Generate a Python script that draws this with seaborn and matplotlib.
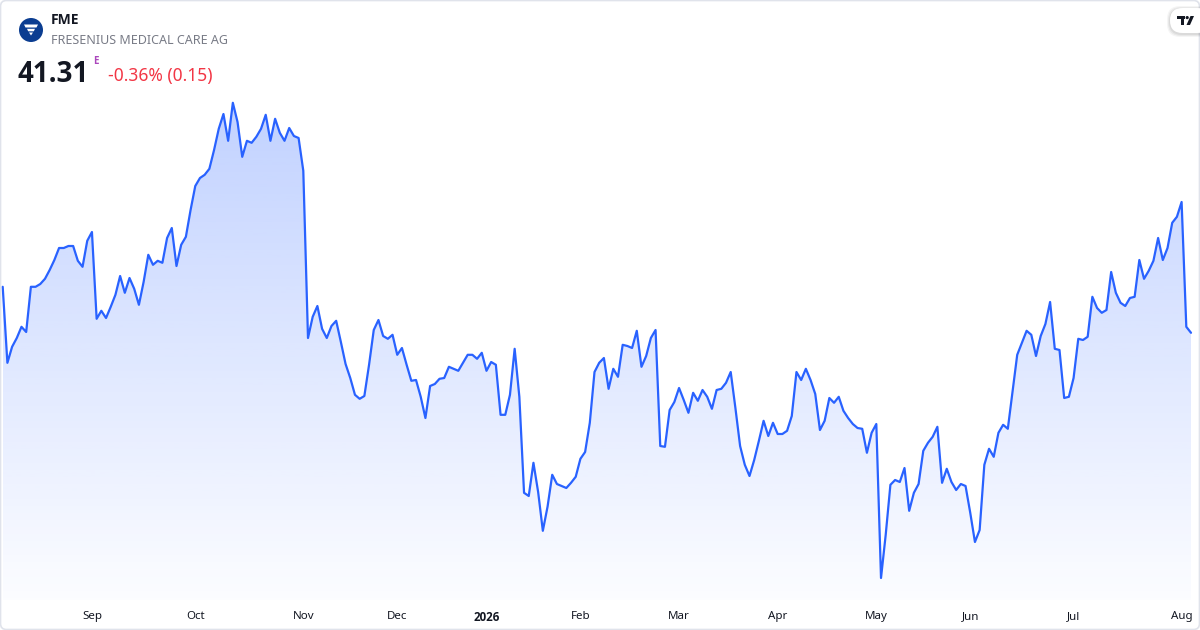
import numpy as np
import pandas as pd
import matplotlib
matplotlib.use('Agg')
import matplotlib.pyplot as plt
import seaborn as sns
from matplotlib import font_manager
from matplotlib.patches import FancyBboxPatch, Circle, Polygon, Rectangle

sns.set_theme(style='white')
plt.rcParams['font.family'] = ['Noto Sans', 'DejaVu Sans']

# daily closes, FME (Xetra), Aug 2025 - Aug 2026
closes = [
    42.46, 40.56, 40.96, 41.18, 41.46, 41.33, 42.46, 42.46, 42.53, 42.66,
    42.88, 43.13, 43.43, 43.43, 43.48, 43.48, 43.11, 42.96, 43.61, 43.83,
    41.66, 41.86, 41.68, 41.96, 42.26, 42.73, 42.31, 42.68, 42.41, 42.01,
    42.58, 43.26, 43.01, 43.11, 43.06, 43.68, 43.93, 42.98, 43.51, 43.71,
    44.38, 44.98, 45.18, 45.26, 45.41, 45.88, 46.41, 46.78, 46.11, 47.06,
    46.58, 45.71, 46.11, 46.06, 46.21, 46.41, 46.76, 46.11, 46.66, 46.31,
    46.11, 46.43, 46.23, 46.18, 45.36, 41.18, 41.71, 41.98, 41.41, 41.18,
    41.48, 41.61, 41.08, 40.53, 40.18, 39.76, 39.66, 39.73, 40.51, 41.38,
    41.63, 41.23, 41.16, 41.26, 40.76, 40.93, 40.51, 40.11, 40.13, 39.71,
    39.18, 39.98, 40.03, 40.16, 40.18, 40.46, 40.41, 40.36, 40.56, 40.76,
    40.76, 40.66, 40.81, 40.36, 40.58, 40.51, 39.26, 39.26, 39.76, 40.91,
    39.71, 37.31, 37.23, 38.06, 37.33, 36.36, 36.96, 37.76, 37.53, 37.48,
    37.43, 37.56, 37.71, 38.16, 38.33, 39.06, 40.33, 40.56, 40.68, 39.91,
    40.41, 40.21, 41.01, 40.98, 40.93, 41.36, 40.46, 40.73, 41.18, 41.38,
    38.48, 38.46, 39.38, 39.58, 39.93, 39.63, 39.31, 39.81, 39.61, 39.88,
    39.71, 39.41, 39.88, 39.91, 40.06, 40.33, 39.43, 38.48, 38.01, 37.73,
    38.13, 38.61, 39.11, 38.73, 39.06, 38.78, 38.78, 38.86, 39.23, 40.33,
    40.13, 40.41, 40.13, 39.78, 38.88, 39.11, 39.68, 39.56, 39.71, 39.36,
    39.18, 39.03, 38.93, 38.91, 38.31, 38.81, 39.03, 35.18, 36.26, 37.51,
    37.63, 37.58, 37.93, 36.86, 37.31, 37.53, 38.36, 38.56, 38.71, 38.96,
    37.56, 37.91, 37.58, 37.38, 37.53, 37.48, 36.81, 36.08, 36.38, 38.01,
    38.41, 38.21, 38.81, 39.01, 38.91, 39.83, 40.76, 41.06, 41.36, 41.26,
    40.73, 41.23, 41.53, 42.08, 40.91, 40.88, 39.68, 39.71, 40.18, 41.16,
    41.13, 41.21, 42.21, 41.93, 41.81, 41.88, 42.83, 42.31, 42.06, 41.98,
    42.18, 42.21, 43.13, 42.66, 42.86, 43.11, 43.68, 43.13, 43.43, 44.06,
    44.21, 44.58, 41.46, 41.31,
]

# first trading day of each month (bar index) and its label
month_idx = [19, 41, 64, 84, 103, 123, 144, 165, 186, 206, 228, 251]
month_labels = ['Sep', 'Oct', 'Nov', 'Dec', '2026', 'Feb', 'Mar', 'Apr', 'May', 'Jun', 'Jul', 'Aug']

ticker = 'FME'
company = 'FRESENIUS MEDICAL CARE AG'
last_price = '41.31'
change_txt = '-0.36% (0.15)'

# pick a family that really ships a bold face
bold_family = 'DejaVu Sans'
for fam in ['Noto Sans', 'Open Sans', 'Inter', 'Roboto', 'Lato', 'Liberation Sans']:
    ok = [f for f in font_manager.fontManager.ttflist
          if f.name == fam and (f.weight in ('bold', 'semibold', 'demibold')
                                or (isinstance(f.weight, int) and f.weight >= 600))]
    if ok:
        bold_family = fam
        break

df = pd.DataFrame({'day': np.arange(len(closes)), 'close': closes})

blue = '#2962ff'
W, H = 1200, 630
fig = plt.figure(figsize=(12, 6.3), dpi=100)
fig.patch.set_facecolor('white')

# price panel
ax = fig.add_axes([2.7 / W, 30 / H, (1191 - 2.7) / W, 505 / H])
ylo, yhi = 34.63, 47.255
ax.set_xlim(0, len(closes) - 1)
ax.set_ylim(ylo, yhi)
ax.patch.set_alpha(0)

# gradient area under the line
rgb = np.array(matplotlib.colors.to_rgb(blue))
img = np.zeros((256, 1, 4))
img[..., :3] = rgb
img[..., 3] = np.linspace(0.29, 0.015, 256)[:, None]
im = ax.imshow(img, extent=[0, len(closes) - 1, ylo, 47.1], aspect='auto',
               origin='upper', zorder=1, interpolation='bilinear')
poly = ax.fill_between(df['day'], df['close'], ylo, color='none', lw=0)
im.set_clip_path(poly.get_paths()[0], transform=ax.transData)
ax.set_ylim(ylo, yhi)

sns.lineplot(data=df, x='day', y='close', color=blue, linewidth=1.6, ax=ax, zorder=3)
for ln in ax.lines:
    ln.set_clip_on(False)

for s in ax.spines.values():
    s.set_visible(False)
ax.set_yticks([])
ax.set_xlabel('')
ax.set_ylabel('')
ax.set_xticks(month_idx)
ax.set_xticklabels(month_labels, fontsize=8.3, color='#131722')
ax.tick_params(axis='x', length=0, pad=8)
for lab in ax.get_xticklabels():
    if lab.get_text() == '2026':
        lab.set_fontweight('bold')
        lab.set_family(bold_family)

# overlay in pixel coordinates for header and frame
ov = fig.add_axes([0, 0, 1, 1])
ov.set_xlim(0, W)
ov.set_ylim(H, 0)
ov.axis('off')
ov.patch.set_alpha(0)

ov.add_patch(FancyBboxPatch((0.5, 0.5), W - 1, H - 1,
                            boxstyle='round,pad=0,rounding_size=6',
                            fc='none', ec='#e0e3eb', lw=1.2))

# company logo
ov.add_patch(Circle((31, 30), 12, fc='#0b3d91', ec='none'))
ov.add_patch(Polygon([(24, 24.5), (38, 24.5), (36.5, 27.5), (25.5, 27.5)], fc='white', ec='none'))
ov.add_patch(Polygon([(27, 28.8), (35, 28.8), (33.8, 31.3), (28.2, 31.3)], fc='white', ec='none'))
ov.add_patch(Polygon([(29, 32.5), (33, 32.5), (31, 35.5)], fc='white', ec='none'))

ov.text(51, 20.5, ticker, fontsize=10, fontweight='bold', family=bold_family,
        color='#131722', va='center', ha='left')
ov.text(51, 40.5, company, fontsize=9, color='#787b86', va='center', ha='left')
ov.text(18, 82, last_price, fontsize=20, fontweight='bold', family=bold_family,
        color='#131722', va='baseline', ha='left')
ov.text(93, 61.5, 'E', fontsize=7, fontweight='bold', family=bold_family,
        color='#ab47bc', va='center', ha='left')
ov.text(108, 81, change_txt, fontsize=12.5, color='#f23645', va='baseline', ha='left')

# TradingView badge
for k, a in [(3, 0.04), (2, 0.05), (1, 0.06)]:
    ov.add_patch(FancyBboxPatch((1170 - k, 8 - k + 1), 40 + 2 * k, 25 + 2 * k,
                                boxstyle='round,pad=0,rounding_size=13',
                                fc='black', ec='none', alpha=a))
ov.add_patch(FancyBboxPatch((1170, 8), 40, 25, boxstyle='round,pad=0,rounding_size=12.5',
                            fc='white', ec='none'))
ov.add_patch(Rectangle((1177, 16), 8, 3, fc='#131722', ec='none'))
ov.add_patch(Rectangle((1181, 16), 3, 9, fc='#131722', ec='none'))
ov.add_patch(Circle((1187.2, 17.6), 1.6, fc='#131722', ec='none'))
ov.add_patch(Polygon([(1190.5, 16), (1194, 16), (1190, 25), (1186.5, 25)], fc='#131722', ec='none'))

fig.savefig('out.png', dpi=100, facecolor='white')
